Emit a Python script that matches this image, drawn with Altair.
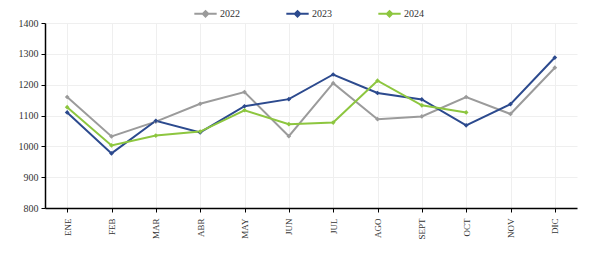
import altair as alt
import pandas as pd

months = ["ENE", "FEB", "MAR", "ABR", "MAY", "JUN", "JUL", "AGO", "SEPT", "OCT", "NOV", "DIC"]
y2022 = [1160, 1032, 1080, 1138, 1176, 1033, 1205, 1088, 1097, 1160, 1105, 1255]
y2023 = [1110, 977, 1083, 1045, 1130, 1153, 1233, 1173, 1152, 1068, 1137, 1288]
y2024 = [1127, 1003, 1035, 1048, 1117, 1072, 1077, 1213, 1133, 1110]
series_names = ["2022", "2023", "2024"]
series_colors = ["#9B9B9B", "#2C4A8E", "#8DC63F"]

rows = []
for name, vals in zip(series_names, [y2022, y2023, y2024]):
    for m, v in zip(months, vals):
        rows.append({"mes": m, "serie": name, "valor": v})
df = pd.DataFrame(rows)

FONT = "Liberation Serif"

color = alt.Color(
    "serie:N",
    scale=alt.Scale(domain=series_names, range=series_colors),
    legend=alt.Legend(
        title=None,
        orient="none",
        legendX=148,
        legendY=-22,
        direction="horizontal",
        symbolType="M-1,0H1M-0.25,0L0,-0.25L0.25,0L0,0.25Z",
        symbolSize=500,
        symbolStrokeWidth=2,
        labelFont=FONT,
        labelFontSize=10,
        labelColor="#333333",
        columnPadding=42,
        labelOffset=2,
    ),
)

x = alt.X(
    "mes:N",
    sort=months,
    title=None,
    scale=alt.Scale(domain=months),
    axis=alt.Axis(
        labelAngle=270,
        labelFont=FONT,
        labelFontSize=9,
        labelColor="#333333",
        labelPadding=6,
        bandPosition=0,
        tickColor="#000000",
        tickSize=4,
        domainColor="#000000",
        domainWidth=1.5,
        grid=True,
        gridColor="#EFEFEF",
        gridWidth=1,
    ),
)
y = alt.Y(
    "valor:Q",
    title=None,
    scale=alt.Scale(domain=[800, 1400], nice=False, zero=False),
    axis=alt.Axis(
        values=[800, 900, 1000, 1100, 1200, 1300, 1400],
        format="d",
        labelFont=FONT,
        labelFontSize=10,
        labelColor="#333333",
        tickColor="#000000",
        tickSize=4,
        domainColor="#000000",
        domainWidth=1.5,
        gridColor="#EFEFEF",
        gridWidth=1,
        labelPadding=3,
    ),
)

lines = alt.Chart(df).mark_line(strokeWidth=2).encode(x=x, y=y, color=color)
points = alt.Chart(df).mark_point(shape="diamond", filled=True, size=22, opacity=1).encode(
    x=x, y=y, color=alt.Color("serie:N", scale=alt.Scale(domain=series_names, range=series_colors), legend=None)
)

chart = (
    alt.layer(lines, points)
    .properties(
        width=532,
        height=185,
        autosize=alt.AutoSizeParams(type="none"),
        padding={"left": 45, "top": 23, "right": 12, "bottom": 45},
        background="white",
    )
    .configure_view(stroke=None)
)

chart.save("out.html", embed_options={"renderer": "svg", "actions": False})
